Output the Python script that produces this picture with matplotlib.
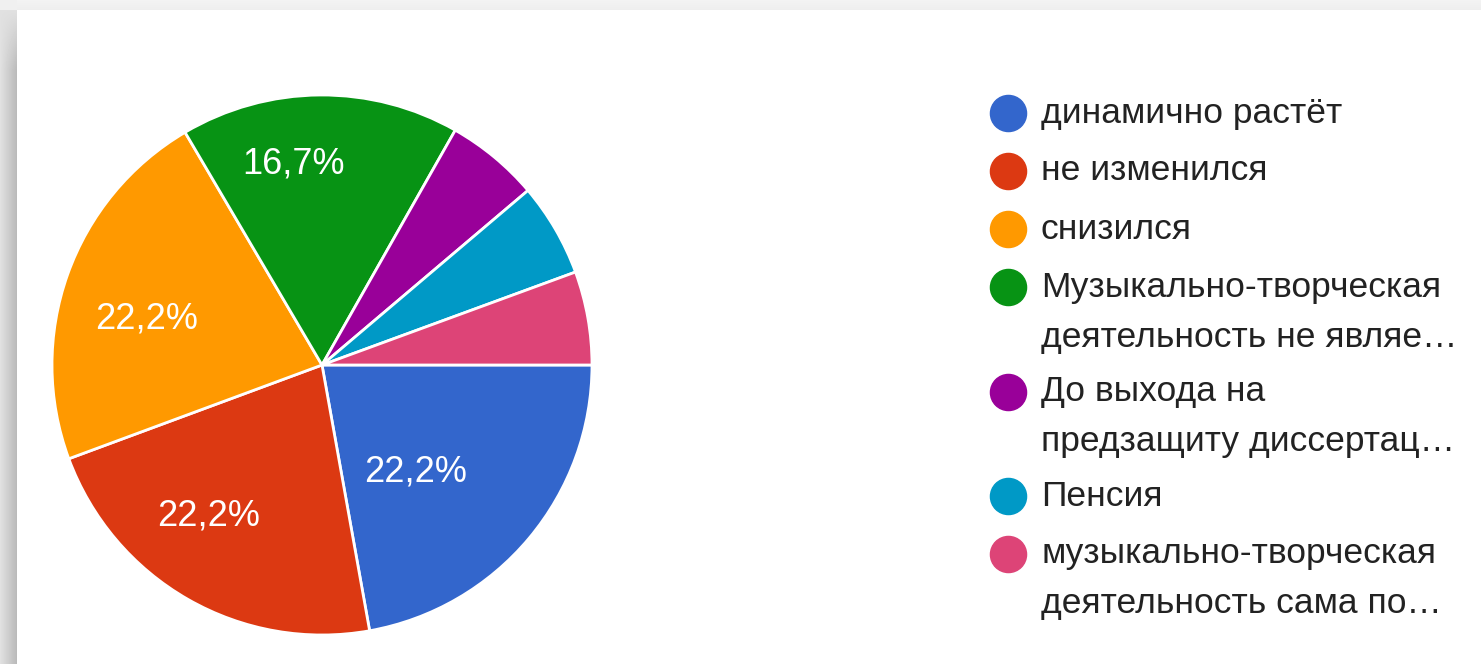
import numpy as np
import matplotlib.pyplot as plt

# Pie data (percent of answers)
labels = [
    "динамично растёт",
    "не изменился",
    "снизился",
    "Музыкально-творческая\nдеятельность не являе…",
    "До выхода на\nпредзащиту диссертац…",
    "Пенсия",
    "музыкально-творческая\nдеятельность сама по…",
]
values = [22.2, 22.2, 22.2, 16.7, 5.6, 5.6, 5.6]
colors = ["#3366cc", "#dc3912", "#ff9900", "#079314", "#990099", "#0099c6", "#dd4477"]
# where the percent labels sit: fraction of radius and angle shift (deg)
label_radius = [0.525, 0.70, 0.67, 0.75, 0.7, 0.7, 0.7]
label_shift = [-9, -7, 5, 7.5, 0, 0, 0]

plt.rcParams['font.family'] = ['Liberation Sans', 'DejaVu Sans']

W, H = 1481, 664
fig = plt.figure(figsize=(W / 100, H / 100), dpi=100)

# background with a soft shadow on the top and left edges
bg = fig.add_axes([0, 0, 1, 1])
bg.set_axis_off()
yy, xx = np.mgrid[0:H, 0:W]
img = np.ones((H, W))
left = (xx < 17) & (yy >= 10)
img[left] = 0.88 - 0.16 * (xx[left] / 17.0) * np.clip((yy[left] - 10) / 60.0, 0, 1)
top = yy < 10
img[top] = 0.95 - 0.02 * (yy[top] / 10.0)
corner = (xx < 17) & (yy < 10)
img[corner] = 0.94
bg.imshow(img, cmap='gray', vmin=0, vmax=1, aspect='auto', extent=[0, W, H, 0])
bg.set_xlim(0, W)
bg.set_ylim(H, 0)

# pie
cx, cy, r = 322, 365, 270
ax = fig.add_axes([(cx - r) / W, (H - cy - r) / H, 2 * r / W, 2 * r / H])
wedges, _ = ax.pie(values, colors=colors, startangle=0, counterclock=False,
                   radius=1, wedgeprops=dict(edgecolor='white', linewidth=2))
ax.set_xlim(-1, 1)
ax.set_ylim(-1, 1)
ax.set_axis_off()

for w, v, lr, sh in zip(wedges, values, label_radius, label_shift):
    if v < 10:
        continue
    ang = np.deg2rad((w.theta1 + w.theta2) / 2 + sh)
    txt = f"{v:.1f}%".replace('.', ',')
    ax.text(lr * np.cos(ang), lr * np.sin(ang), txt, color='white',
            fontsize=26, ha='center', va='center')

# legend drawn by hand (marker aligned with the first line of each entry)
y = 113
for lab, c in zip(labels, colors):
    fig.add_artist(plt.Line2D([1008 / W], [1 - y / H], marker='o', markersize=26,
                              markerfacecolor=c, markeredgecolor=c, linestyle=''))
    lines = lab.split('\n')
    for i, ln in enumerate(lines):
        fig.text(1041 / W, 1 - (y + 50 * i) / H, ln, fontsize=25.5, color='#222222',
                 ha='left', va='center')
    y += 58 + 46.5 * (len(lines) - 1)

fig.savefig('out.png', dpi=100)
